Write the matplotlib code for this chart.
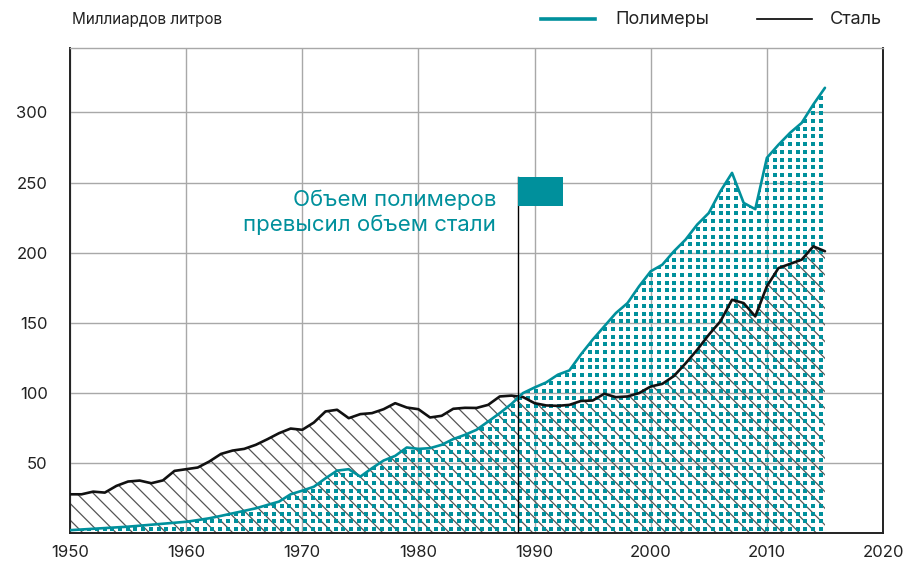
import numpy as np
import matplotlib
matplotlib.use('Agg')
import matplotlib.pyplot as plt

plt.rcParams['font.family'] = ['Inter', 'DejaVu Sans']
plt.rcParams['hatch.linewidth'] = 0.9

# годы и значения (млрд литров)
years = list(range(1950, 2016))
steel = [27.6, 27.6, 29.5, 28.8, 33.6, 36.7, 37.4, 35.5, 37.5, 44.3,
         45.5, 46.7, 51.0, 56.4, 58.8, 60.0, 62.9, 66.9, 71.2, 74.5,
         73.6, 78.8, 86.7, 87.9, 81.9, 84.8, 85.5, 88.3, 92.6, 89.5,
         88.3, 82.4, 83.6, 88.6, 89.3, 89.2, 91.4, 97.4, 98.0, 97.0,
         92.6, 91.0, 90.7, 91.4, 94.2, 94.5, 99.3, 96.9, 97.4, 99.8,
         104.5, 106.4, 112.0, 121.0, 130.7, 141.4, 151.0, 166.4, 164.0, 154.5,
         176.0, 189.0, 192.0, 195.0, 204.5, 201.0]
polymers = [2.0, 2.5, 3.0, 3.5, 4.0, 4.5, 5.2, 5.9, 6.6, 7.3,
            8.0, 9.2, 10.5, 12.2, 14.0, 15.8, 17.6, 20.0, 22.4, 27.6,
            30.2, 33.0, 39.0, 44.5, 45.5, 40.2, 46.2, 51.7, 55.0, 61.0,
            60.0, 60.5, 62.9, 67.0, 70.0, 73.6, 79.5, 85.5, 92.0, 99.8,
            103.8, 107.4, 112.9, 116.0, 127.5, 137.9, 147.4, 156.9, 164.0, 176.0,
            186.7, 191.4, 201.0, 209.3, 220.0, 228.3, 243.8, 256.9, 235.5, 231.0,
            267.6, 277.0, 285.5, 292.6, 305.7, 317.6]

x_ticks = [1950, 1960, 1970, 1980, 1990, 2000, 2010, 2020]
y_ticks = [50, 100, 150, 200, 250, 300]

flag_year = 1988.6
flag_top = 254
flag_bottom = 233
flag_width = 3.85
note = 'Объем полимеров\nпревысил объем стали'

teal = '#00909c'

fig = plt.figure(figsize=(9.04, 5.64), dpi=100)
ax = fig.add_axes([0.0774, 0.055, 0.8994, 0.8599])

ax.set_xlim(1950, 2020)
ax.set_ylim(0, 346)
ax.set_xticks(x_ticks)
ax.set_yticks(y_ticks)
ax.grid(True, color='#a8a8a8', linewidth=1.0)
ax.set_axisbelow(True)
ax.tick_params(length=0, labelsize=12, colors='#222222')
ax.tick_params(axis='x', pad=9)
ax.tick_params(axis='y', pad=16)

for s in ['left', 'bottom', 'right']:
    ax.spines[s].set_color('#222222')
    ax.spines[s].set_linewidth(1.4)
ax.spines['top'].set_color('#a8a8a8')
ax.spines['top'].set_linewidth(1.0)

# косая штриховка под сталью
ax.fill_between(years, 0, steel, facecolor='none', edgecolor='#555555',
                hatch='\\\\', linewidth=0, zorder=2)

# точечная сетка под полимерами (квадратики ~8 px), обрезанная по области
poly_area = ax.fill_between(years, 0, polymers, facecolor='none',
                            edgecolor='none', linewidth=0, zorder=3)
dx = 7.7 / (ax.bbox.width / 70)
dy = 7.7 / (ax.bbox.height / 346)
gx, gy = np.meshgrid(np.arange(1950 + dx / 2, 2015.2, dx),
                     np.arange(dy / 2, 346, dy))
dots = ax.scatter(gx.ravel(), gy.ravel(), s=5, marker='s', color=teal,
                  linewidths=0, zorder=3)
dots.set_clip_path(poly_area.get_paths()[0], ax.transData)

ax.plot(years, steel, color='#111111', linewidth=1.9, zorder=5,
        solid_joinstyle='round', solid_capstyle='round')
ax.plot(years, polymers, color=teal, linewidth=1.9, zorder=6,
        solid_joinstyle='round', solid_capstyle='round')

# флажок
ax.plot([flag_year, flag_year], [0, flag_top], color='black', linewidth=1.0, zorder=7)
ax.fill_between([flag_year, flag_year + flag_width], flag_bottom, flag_top,
                color=teal, linewidth=0, zorder=7)
ax.text(flag_year - 1.9, 229, note, color=teal, fontsize=16, ha='right',
        va='center', linespacing=1.25)

fig.text(0.08, 0.965, 'Миллиардов литров', fontsize=11, color='#222222',
         va='center', ha='left')

# легенда
fig.lines.append(plt.Line2D([0.598, 0.658], [0.966, 0.966], color=teal,
                            linewidth=2.6, transform=fig.transFigure))
fig.text(0.681, 0.966, 'Полимеры', fontsize=13, color='#222222', va='center')
fig.lines.append(plt.Line2D([0.837, 0.898], [0.966, 0.966], color='black',
                            linewidth=1.2, transform=fig.transFigure))
fig.text(0.918, 0.966, 'Сталь', fontsize=13, color='#222222', va='center')

fig.savefig('out.png', dpi=100)
